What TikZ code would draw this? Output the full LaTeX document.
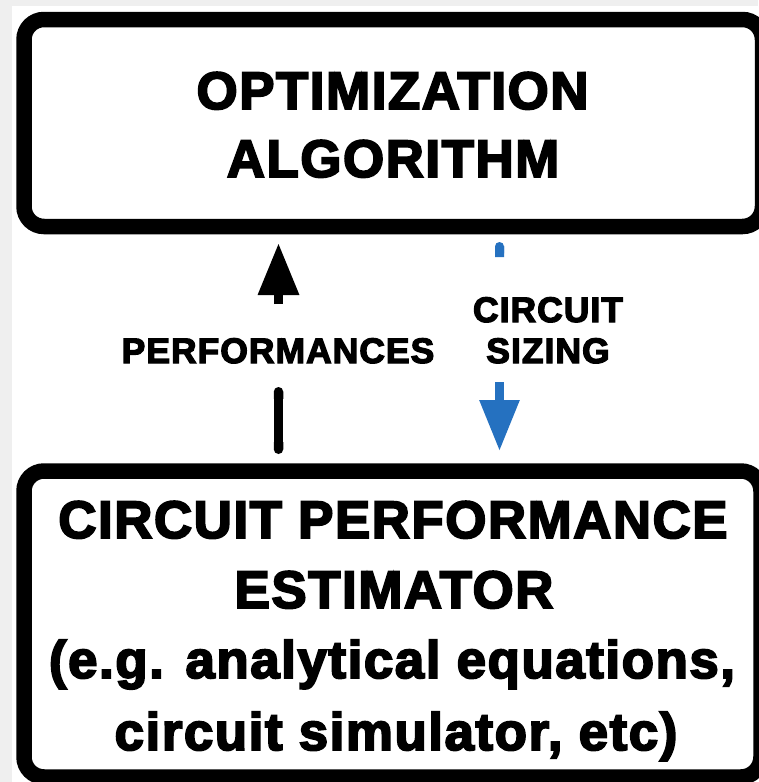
\documentclass[tikz,border=0pt]{standalone}
\usepackage{fontspec}
\usetikzlibrary{arrows.meta}
\newfontfamily\heavyfont{Liberation Sans Bold}[FakeBold=3.6, LetterSpace=3]
\definecolor{sizeblue}{RGB}{37,113,192}
\definecolor{pagegray}{RGB}{239,239,239}
\tikzset{
  frame/.style={draw=black, fill=white, line width=15.5pt, rounded corners=20pt, inner sep=0pt},
  boxtext/.style={font=\heavyfont\fontsize{52.8}{62}\selectfont, inner sep=0pt, anchor=base},
  labeltext/.style={font=\heavyfont\fontsize{35.4}{41}\selectfont, inner sep=0pt, anchor=base},
  perfline/.style={line width=9.5pt, black},
  sizeline/.style={line width=9pt, sizeblue}
}
\begin{document}
\begin{tikzpicture}[x=1pt, y=-1pt]
  \useasboundingbox (0,0) rectangle (758,782);
  % page background with a thin grey margin
  \fill[pagegray] (0,0) rectangle (758,782);
  \fill[white] (12,6) rectangle (758,782);

  % the two blocks
  \node[frame, minimum width=738.5pt, minimum height=207pt] (opt) at (393.25,123) {};
  \node[frame, minimum width=737pt, minimum height=306pt] (est) at (392.5,624) {};

  \node[boxtext] (opt1) at (392.5,109) {OPTIMIZATION};
  \node[boxtext] (opt2) at (393,177) {ALGORITHM};

  \node[boxtext] (est1) at (393,538) {CIRCUIT PERFORMANCE};
  \node[boxtext] (est2) at (394,608) {ESTIMATOR};
  \node[boxtext] (est3) at (392,678) {(e.g. analytical equations,};
  \node[boxtext] (est4) at (396,750) {circuit simulator, etc)};

  % performances: estimator -> optimizer, broken around its label
  \coordinate (perfcut) at (278.5,304);
  \coordinate (perfrest) at (278.5,387);
  \draw[perfline, {Round Cap[]}-{Round Cap[]}, shorten <=9.25pt]
    (est.north -| perfrest) -- (perfrest);
  \draw[perfline, -{Triangle[length=52pt, width=39pt]}, shorten >=8.75pt]
    (perfcut) -- (perfcut |- opt.south);
  \node[labeltext] (perf) at (278,363) {PERFORMANCES};

  % circuit sizing: optimizer -> estimator, broken around its label
  \coordinate (sizecut) at (499.5,257);
  \coordinate (sizerest) at (499.5,382);
  \draw[sizeline, {Round Cap[]}-{Butt Cap[]}, shorten <=7.75pt]
    (opt.south -| sizecut) -- (sizecut);
  \draw[sizeline, -{Triangle[length=51pt, width=38pt]}, shorten >=12.25pt]
    (sizerest) -- (sizerest |- est.north);
  \node[labeltext] (size1) at (548,322) {CIRCUIT};
  \node[labeltext] (size2) at (548,363) {SIZING};
\end{tikzpicture}
\end{document}
